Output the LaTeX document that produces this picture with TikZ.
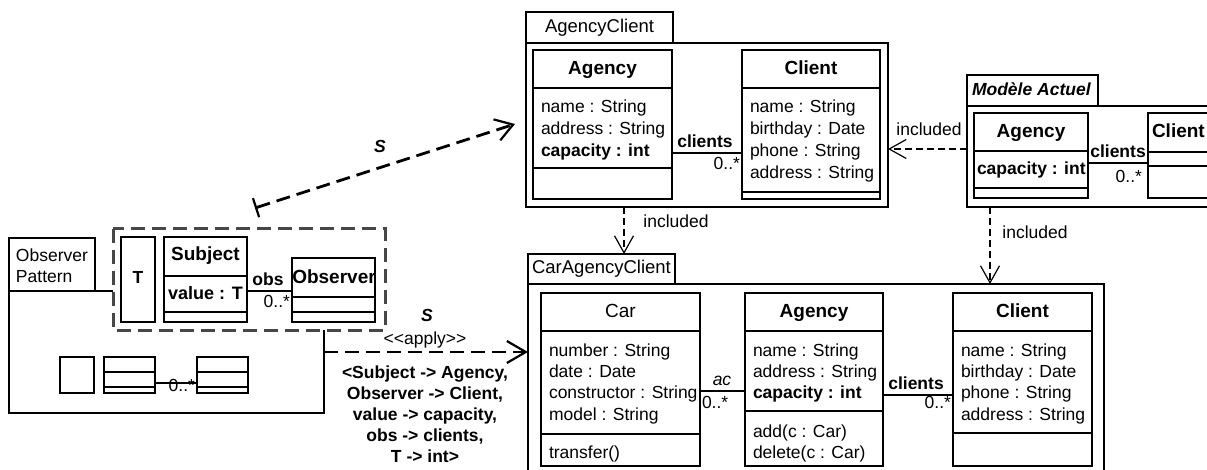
\documentclass[tikz,border=0pt]{standalone}
\usepackage{fontspec}
\setmainfont{Liberation Sans}
\usetikzlibrary{arrows.meta}
\begin{document}
\begin{tikzpicture}[x=1pt,y=-1pt,
  ln/.style={line width=1.2pt},
  cbox/.style={draw, line width=1.2pt, fill=white, inner sep=0pt, outer sep=0pt, anchor=north west, rectangle},
  txt/.style={inner sep=0pt, outer sep=0pt, text height=12.5pt, text depth=3.7pt, font=\fontsize{17.5}{21}\selectfont},
  txtb/.style={txt, font=\fontsize{17.5}{21}\selectfont\bfseries},
  txtbi/.style={txt, font=\fontsize{17.5}{21}\selectfont\bfseries\itshape},
  txti/.style={txt, font=\fontsize{17.5}{21}\selectfont\itshape},
  hdr/.style={inner sep=0pt, outer sep=0pt, text height=13.6pt, text depth=4pt, font=\fontsize{19}{23}\selectfont\bfseries},
  hdrn/.style={hdr, font=\fontsize{19}{23}\selectfont},
  pkt/.style={inner sep=0pt, outer sep=0pt, text height=13.3pt, text depth=3.9pt, font=\fontsize{18.5}{22}\selectfont},
  incl/.style={line width=1.2pt, dash pattern=on 7pt off 4pt, -{Straight Barb[length=17pt,width=19pt,line width=1.2pt]}},
  sarr/.style={line width=2.8pt, dash pattern=on 14pt off 7pt},
  dbx/.style={draw=black!72, line width=3pt, dash pattern=on 14pt off 7pt},
]
\useasboundingbox (0,0) rectangle (1207,470);
\clip (0,0) rectangle (1207,470);

% ================= AgencyClient =================
\node[cbox, minimum width=147pt, minimum height=31pt] (agcTab) at (526,12) {};
\node[pkt] (agcTitle) at (agcTab.center) {AgencyClient};
\node[cbox, minimum width=362pt, minimum height=164pt] (agc) at (526,43) {};
% Agency
\node[cbox, minimum width=139pt, minimum height=149pt] (agcA) at (533,50) {};
\draw[ln] (agcA.west |- 0,88) -- (agcA.east |- 0,88);
\draw[ln] (agcA.west |- 0,168) -- (agcA.east |- 0,168);
\node[hdr] (agcAh) at (agcA.north |- 0,70) {Agency};
\node[txt, anchor=west] (agcA1) at (541,108) {name : String};
\node[txt, anchor=west] (agcA2) at (541,130) {address : String};
\node[txtb, anchor=west] (agcA3) at (541,152) {capacity : int};
% Client
\node[cbox, minimum width=138pt, minimum height=149pt] (agcC) at (742,50) {};
\draw[ln] (agcC.west |- 0,88) -- (agcC.east |- 0,88);
\draw[ln] (agcC.west |- 0,192) -- (agcC.east |- 0,192);
\node[hdr] (agcCh) at (agcC.north |- 0,70) {Client};
\node[txt, anchor=west] (agcC1) at (750,108) {name : String};
\node[txt, anchor=west] (agcC2) at (750,130) {birthday : Date};
\node[txt, anchor=west] (agcC3) at (750,152) {phone : String};
\node[txt, anchor=west] (agcC4) at (750,174) {address : String};
\draw[ln] (agcA.east |- 0,153) -- (agcC.west |- 0,153);
\node[txtb] (agcL1) at (705,143) {clients};
\node[txt, anchor=east] (agcL2) at (740,165) {0..*};

% ================= Modele Actuel =================
\node[cbox, minimum width=131pt, minimum height=31pt] (maTab) at (967,75) {};
\node[txtbi, anchor=west] (maTitle) at (972,91) {Modèle Actuel};
\node[cbox, minimum width=262pt, minimum height=101pt] (ma) at (967,106) {};
\node[cbox, minimum width=114pt, minimum height=85pt] (maA) at (974,113) {};
\draw[ln] (maA.west |- 0,151) -- (maA.east |- 0,151);
\draw[ln] (maA.west |- 0,188) -- (maA.east |- 0,188);
\node[hdr] (maAh) at (maA.north |- 0,133) {Agency};
\node[txtb, anchor=west] (maA1) at (977,170) {capacity : int};
\node[cbox, minimum width=100pt, minimum height=85pt] (maC) at (1148,113) {};
\draw[ln] (maC.west |- 0,152) -- (maC.east |- 0,152);
\draw[ln] (maC.west |- 0,166) -- (maC.east |- 0,166);
\node[hdr, anchor=west] (maCh) at (1152,133) {Client};
\draw[ln] (maA.east |- 0,163) -- (maC.west |- 0,163);
\node[txtb] (maL1) at (1118,153) {clients};
\node[txt, anchor=east] (maL2) at (1142,178) {0..*};

% ================= CarAgencyClient =================
\node[cbox, minimum width=147pt, minimum height=30pt] (cacTab) at (528,254) {};
\node[pkt] (cacTitle) at (cacTab.center) {CarAgencyClient};
\node[cbox, minimum width=576pt, minimum height=200pt] (cac) at (528,284) {};
% Car
\node[cbox, minimum width=159pt, minimum height=173pt] (car) at (541,293) {};
\draw[ln] (car.west |- 0,331) -- (car.east |- 0,331);
\draw[ln] (car.west |- 0,434) -- (car.east |- 0,434);
\node[hdrn] (carh) at (car.north |- 0,313) {Car};
\node[txt, anchor=west] (car1) at (549,352) {number : String};
\node[txt, anchor=west] (car2) at (549,373) {date : Date};
\node[txt, anchor=west] (car3) at (549,394) {constructor : String};
\node[txt, anchor=west] (car4) at (549,416) {model : String};
\node[txt, anchor=west] (car5) at (549,454) {transfer()};
% Agency
\node[cbox, minimum width=138pt, minimum height=173pt] (cacA) at (745,293) {};
\draw[ln] (cacA.west |- 0,331) -- (cacA.east |- 0,331);
\draw[ln] (cacA.west |- 0,411) -- (cacA.east |- 0,411);
\node[hdr] (cacAh) at (cacA.north |- 0,313) {Agency};
\node[txt, anchor=west] (cacA1) at (753,352) {name : String};
\node[txt, anchor=west] (cacA2) at (753,373) {address : String};
\node[txtb, anchor=west] (cacA3) at (753,394) {capacity : int};
\node[txt, anchor=west] (cacA4) at (753,433) {add(c : Car)};
\node[txt, anchor=west] (cacA5) at (753,454) {delete(c : Car)};
% Client
\node[cbox, minimum width=139pt, minimum height=173pt] (cacC) at (953,293) {};
\draw[ln] (cacC.west |- 0,331) -- (cacC.east |- 0,331);
\draw[ln] (cacC.west |- 0,433) -- (cacC.east |- 0,433);
\node[hdr] (cacCh) at (cacC.north |- 0,313) {Client};
\node[txt, anchor=west] (cacC1) at (961,352) {name : String};
\node[txt, anchor=west] (cacC2) at (961,373) {birthday : Date};
\node[txt, anchor=west] (cacC3) at (961,394) {phone : String};
\node[txt, anchor=west] (cacC4) at (961,416) {address : String};
% associations
\draw[ln] (car.east |- 0,391) -- (cacA.west |- 0,391);
\node[txti] (acL1) at (722,381) {ac};
\node[txt, anchor=west] (acL2) at (702,404) {0..*};
\draw[ln] (cacA.east |- 0,395) -- (cacC.west |- 0,395);
\node[txtb] (clL1) at (916,385) {clients};
\node[txt, anchor=east] (clL2) at (951,404) {0..*};

% ================= included arrows =================
\draw[incl] (ma.west |- 0,149) -- (agc.east |- 0,149);
\node[txt] (inc1) at (929,131) {included};
\draw[incl] (agc.south -| 624,0) -- (cacTab.north -| 624,0);
\node[txt] (inc2) at (676,223) {included};
\draw[incl] (ma.south -| 990,0) -- (cac.north -| 990,0);
\node[txt] (inc3) at (1035,234) {included};

% ================= Observer Pattern =================
\node[cbox, minimum width=86pt, minimum height=53pt] (opTab) at (9,238) {};
\node[txt, anchor=west] (opT1) at (16,257) {Observer};
\node[txt, anchor=west] (opT2) at (16,278) {Pattern};
\node[cbox, minimum width=315pt, minimum height=122pt] (op) at (9,291) {};
\node[inner sep=0pt, outer sep=0pt, fill=white, anchor=north west, minimum width=272pt, minimum height=101pt] (dbox) at (113,229) {};
\draw[dbx] (dbox.north west) rectangle (dbox.south east);
\node[cbox, minimum width=34pt, minimum height=85pt] (tpar) at (121,237) {};
\node[txtb] (tparL) at (tpar.center) {T};
\node[cbox, minimum width=83pt, minimum height=85pt] (subj) at (164,237) {};
\draw[ln] (subj.west |- 0,276) -- (subj.east |- 0,276);
\draw[ln] (subj.west |- 0,312) -- (subj.east |- 0,312);
\node[hdr] (subjh) at (subj.north |- 0,256) {Subject};
\node[txtb, font=\fontsize{18}{21}\selectfont\bfseries] (subj1) at (subj.north |- 0,295) {value : T};
\node[cbox, minimum width=83pt, minimum height=64pt] (obsv) at (292,258) {};
\draw[ln] (obsv.west |- 0,297) -- (obsv.east |- 0,297);
\draw[ln] (obsv.west |- 0,312) -- (obsv.east |- 0,312);
\node[hdr] (obsvh) at (334,279) {Observer};
\draw[ln] (subj.east |- 0,291) -- (obsv.west |- 0,291);
\node[txtb] (obsL1) at (268,281) {obs};
\node[txt, anchor=east] (obsL2) at (290,303) {0..*};
% lower mini diagram
\node[cbox, minimum width=34pt, minimum height=36pt] (m1) at (60,357) {};
\node[cbox, minimum width=51pt, minimum height=36pt] (m2) at (104,357) {};
\draw[ln] (m2.west |- 0,372) -- (m2.east |- 0,372);
\draw[ln] (m2.west |- 0,387) -- (m2.east |- 0,387);
\node[cbox, minimum width=51pt, minimum height=36pt] (m3) at (197,357) {};
\draw[ln] (m3.west |- 0,372) -- (m3.east |- 0,372);
\draw[ln] (m3.west |- 0,387) -- (m3.east |- 0,387);
\draw[ln] (m2.east |- 0,383) -- (m3.west |- 0,383);
\node[txt, anchor=east] (mL) at (195,387) {0..*};

% ================= S arrows =================
\coordinate (sstart) at (255,208);
\coordinate (send) at (515,124);
\draw[sarr, {Bar[width=20pt,line width=2.2pt]}-{Straight Barb[length=17pt,width=22pt,line width=2.2pt]}] (sstart) -- (send);
\node[txtbi] (s1) at (380,148) {S};
\draw[sarr, -{Straight Barb[length=19pt,width=22pt,line width=2.2pt]}] (op.east |- 0,352) -- (cac.west |- 0,352);
\node[txtbi] (s2) at (427,317) {S};
\node[txt] (apply) at (425,340) {<\kern0pt<apply>\kern0pt>};
\node[txtb] (b1) at (425,374) {<Subject -> Agency,};
\node[txtb] (b2) at (425,395) {Observer -> Client,};
\node[txtb] (b3) at (425,416) {value -> capacity,};
\node[txtb] (b4) at (425,437) {obs -> clients,};
\node[txtb] (b5) at (425,458) {T -> int>};
\end{tikzpicture}
\end{document}
